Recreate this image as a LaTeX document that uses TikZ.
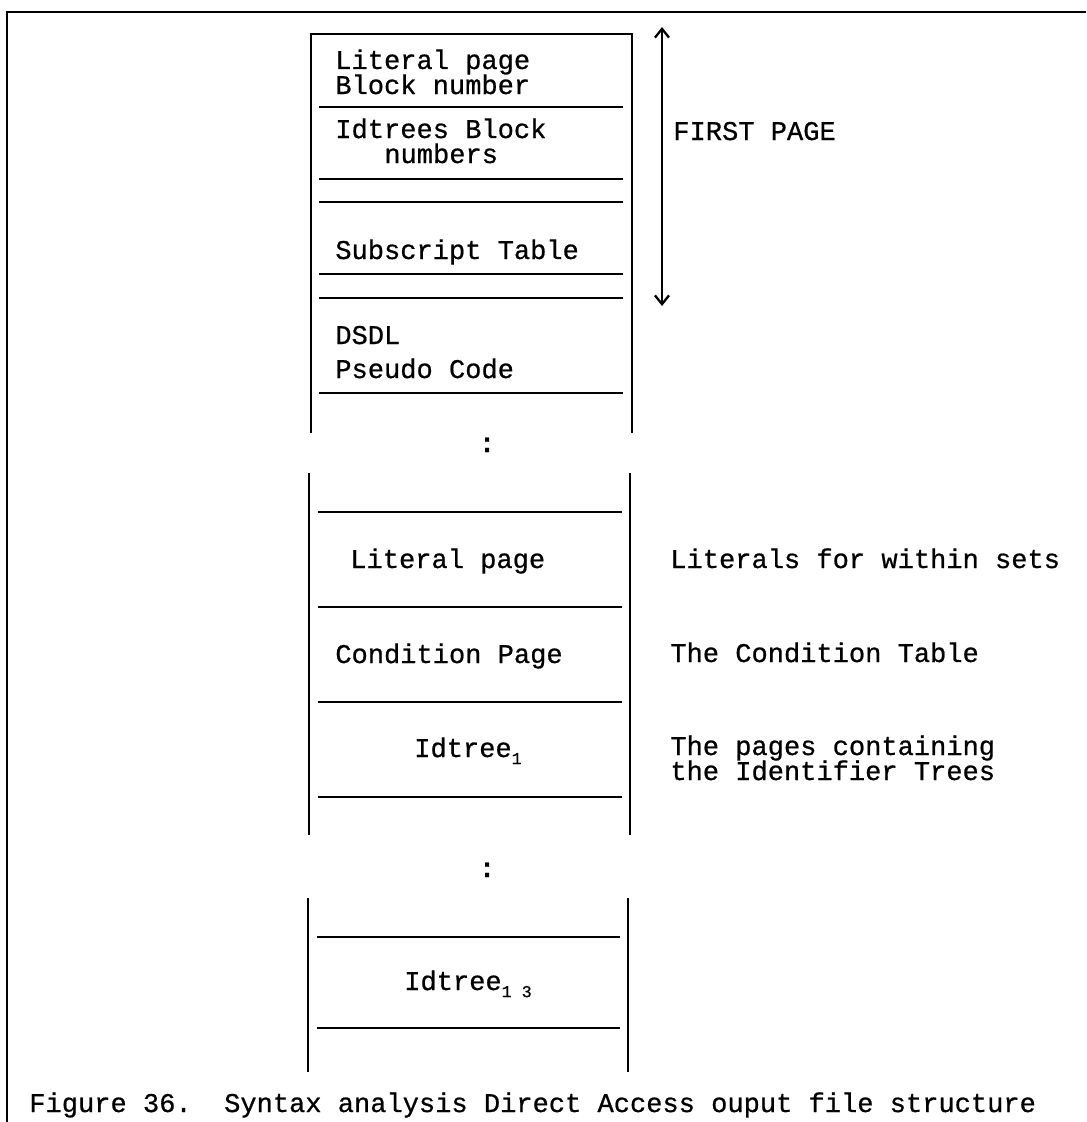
\documentclass[tikz,border=0pt]{standalone}
\usepackage{fontspec}
\setmonofont{Liberation Mono}[FakeBold=0.7]
\usetikzlibrary{arrows.meta}
\tikzset{
  rule/.style={line width=1.6pt},
  side/.style={line width=1.4pt},
  txt/.style={anchor=base west, inner sep=0pt, font=\ttfamily\fontsize{15.4}{20}\selectfont},
  ctr/.style={txt, anchor=base},
}
\newcommand{\idsub}[1]{\raisebox{-0.5ex}{\fontsize{9.5}{9.5}\selectfont #1}}
\begin{document}
\begin{tikzpicture}[x=0.02cm, y=-0.02cm]
\useasboundingbox (0,0) rectangle (1086,1122);
% frame
\draw[rule] (1086,12) -- (7,12) -- (7,1122);

% first part of the file
\draw[side] (311,433) -- (311,34) -- (632,34) -- (632,433);
\foreach \y in {107,179,202,274,298,393}
  \draw[rule] (319,\y) -- (623,\y);
\node[txt] (litblk)  at (335,69)  {Literal page};
\node[txt] (litblk2) at (335,94)  {Block number};
\node[txt] (idblk)   at (335,138) {Idtrees Block};
\node[txt] (idblk2)  at (384,163) {numbers};
\node[txt] (subtab)  at (335,259) {Subscript Table};
\node[txt] (dsdl)    at (335,344) {DSDL};
\node[txt] (pcode)   at (335,378) {Pseudo Code};
\node[ctr, font=\ttfamily\bfseries\fontsize{15.4}{20}\selectfont] (dots1) at (487,452) {:};

% literal and condition pages, first idtree
\draw[side] (309,473) -- (309,835);
\draw[side] (630,473) -- (630,835);
\foreach \y in {512,607,702,797}
  \draw[rule] (318,\y) -- (622,\y);
\node[txt] (litpg)  at (350,568) {Literal page};
\node[txt] (condpg) at (335,663) {Condition Page};
\node[ctr] (idt1)   at (468,757) {Idtree\idsub{1}};
\node[ctr, font=\ttfamily\bfseries\fontsize{15.4}{20}\selectfont] (dots2) at (487,877) {:};

% last idtree
\draw[side] (308,898) -- (308,1072);
\draw[side] (628,898) -- (628,1072);
\foreach \y in {937,1028}
  \draw[rule] (317,\y) -- (620,\y);
\node[ctr] (idt13) at (468,990) {Idtree\idsub{1 3}};

% right hand notes
\coordinate (fptop) at (662,27);
\coordinate (fpbot) at (662,306);
\draw[line width=1.3pt, {Straight Barb[length=5pt,width=8pt]}-{Straight Barb[length=5pt,width=8pt]}] (fptop) -- (fpbot);
\node[txt] (first)  at (673,140) {FIRST PAGE};
\node[txt] (litnote)  at (670,568) {Literals for within sets};
\node[txt] (condnote) at (670,662) {The Condition Table};
\node[txt] (idnote)   at (670,755) {The pages containing};
\node[txt] (idnote2)  at (670,780) {the Identifier Trees};

% caption
\node[txt] (caption) at (29,1112) {Figure 36.\ \ Syntax analysis Direct Access ouput file structure};
\end{tikzpicture}
\end{document}
